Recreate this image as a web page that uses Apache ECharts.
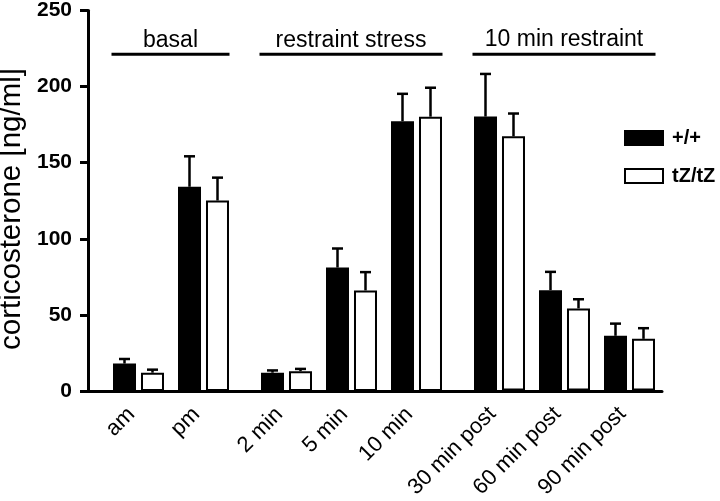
<!DOCTYPE html>
<html><head><meta charset="utf-8">
<script src="https://cdn.jsdelivr.net/npm/echarts@6/dist/echarts.min.js"></script>
<style>html,body{margin:0;padding:0;background:#fff}#c{width:720px;height:501px}</style>
</head><body><div id="c"></div>
<script>
// ---- data ----
const categories = ['am', 'pm', '2 min', '5 min', '10 min', '30 min post', '60 min post', '90 min post'];
const groupNames = ['basal', 'restraint stress', '10 min restraint'];
const groupSizes = [2, 3, 3];
const seriesNames = ['+/+', 'tZ/tZ'];
const wtMean = [18, 134, 12, 81, 177, 180, 66, 36];
const wtSem  = [3, 20, 1.5, 12.5, 18, 28, 12, 8];
const tzMean = [12, 125, 13, 66, 180, 167, 54, 34];
const tzSem  = [2, 15, 1.5, 12, 19, 15, 6, 7];
const yTicks = [0, 50, 100, 150, 200, 250];

// ---- layout ----
const FONT = 'Liberation Sans, Arial, Helvetica, sans-serif';
const TOP = 10, BOTTOM = 110, LEFT = 88, GAP = 18, BAND = 65;
const BAR_W = 23, BAR_GAP_PX = 5;
const HALF = (BAR_W + BAR_GAP_PX) / 2;
const BRACKET_Y = 221;

const grids = [];
const xAxes = [];
const yAxes = [];
const series = [];
let x = LEFT;
let start = 0;
const barGrids = [];
groupSizes.forEach((n, i) => {
  x += GAP;
  barGrids.push({ left: x, top: TOP, bottom: BOTTOM, width: BAND * n });
  x += BAND * n;
});
grids.push({ left: LEFT, top: TOP, bottom: BOTTOM, width: x - LEFT });
barGrids.forEach(g => grids.push(g));

xAxes.push({
  gridIndex: 0, type: 'value', min: 0, max: 1,
  axisLine: { show: true, onZero: false, lineStyle: { color: '#000', width: 3 } },
  axisTick: { show: false }, axisLabel: { show: false }, splitLine: { show: false }
});
yAxes.push({
  gridIndex: 0, type: 'value', min: yTicks[0], max: yTicks[yTicks.length - 1], interval: yTicks[1] - yTicks[0],
  axisLine: { show: true, lineStyle: { color: '#000', width: 3 } },
  axisTick: { show: true, length: 8, lineStyle: { color: '#000', width: 3 } },
  axisLabel: { color: '#000', fontSize: 21, fontWeight: 'bold', fontFamily: FONT, margin: 16 },
  splitLine: { show: false }
});

function errRender(off) {
  return function (params, api) {
    const c = api.value(0), m = api.value(1), s = api.value(2);
    const p0 = api.coord([c, m]);
    const p1 = api.coord([c, m + s]);
    const xx = p0[0] + off;
    return {
      type: 'group',
      children: [
        { type: 'line', shape: { x1: xx, y1: p0[1], x2: xx, y2: p1[1] }, style: { stroke: '#000', lineWidth: 2.5 } },
        { type: 'line', shape: { x1: xx - 5.5, y1: p1[1], x2: xx + 5.5, y2: p1[1] }, style: { stroke: '#000', lineWidth: 2.5 } }
      ]
    };
  };
}

groupSizes.forEach((n, i) => {
  const gi = i + 1;
  const cats = categories.slice(start, start + n);
  xAxes.push({
    gridIndex: gi, type: 'category', data: cats,
    axisLine: { show: false }, axisTick: { show: false },
    axisLabel: { interval: 0, rotate: 45, color: '#000', fontSize: 22, fontFamily: FONT, margin: 13, padding: [0, 10, 0, 0] }
  });
  yAxes.push({ gridIndex: gi, type: 'value', min: 0, max: 250, show: false });
  const wm = wtMean.slice(start, start + n), ws = wtSem.slice(start, start + n);
  const tm = tzMean.slice(start, start + n), ts = tzSem.slice(start, start + n);
  series.push({
    name: seriesNames[0], type: 'bar', xAxisIndex: gi, yAxisIndex: gi, data: wm,
    barWidth: BAR_W, barGap: (BAR_GAP_PX / BAR_W * 100).toFixed(1) + '%',
    itemStyle: { color: '#000', borderColor: '#000', borderWidth: 2 }
  });
  series.push({
    name: seriesNames[1], type: 'bar', xAxisIndex: gi, yAxisIndex: gi, data: tm,
    barWidth: BAR_W, barGap: (BAR_GAP_PX / BAR_W * 100).toFixed(1) + '%',
    itemStyle: { color: '#fff', borderColor: '#000', borderWidth: 2 }
  });
  series.push({
    name: 'err-wt-' + i, type: 'custom', xAxisIndex: gi, yAxisIndex: gi, z: 5,
    data: wm.map((v, j) => [j, v, ws[j]]), renderItem: errRender(-HALF)
  });
  series.push({
    name: 'err-tz-' + i, type: 'custom', xAxisIndex: gi, yAxisIndex: gi, z: 5,
    data: tm.map((v, j) => [j, v, ts[j]]), renderItem: errRender(HALF)
  });
  series.push({
    name: 'bracket-' + i, type: 'custom', xAxisIndex: gi, yAxisIndex: gi, z: 5,
    data: [[0, n - 1]],
    renderItem: (function (label) {
      return function (params, api) {
        const a = api.coord([api.value(0), BRACKET_Y]);
        const b = api.coord([api.value(1), BRACKET_Y]);
        const x1 = a[0] - 27, x2 = b[0] + 26;
        return {
          type: 'group',
          children: [
            { type: 'line', shape: { x1: x1, y1: a[1], x2: x2, y2: a[1] }, style: { stroke: '#000', lineWidth: 3 } },
            { type: 'text', x: (x1 + x2) / 2, y: a[1] - 14,
              style: { text: label, fill: '#000', font: '23px ' + FONT, align: 'center', verticalAlign: 'middle' } }
          ]
        };
      };
    })(groupNames[i])
  });
  start += n;
});

const chart = echarts.init(document.getElementById('c'), null, { renderer: 'canvas' });
chart.setOption({
  animation: false,
  backgroundColor: '#fff',
  grid: grids,
  xAxis: xAxes,
  yAxis: yAxes,
  legend: {
    data: seriesNames.map(n => ({ name: n, icon: 'rect' })), orient: 'vertical', left: 619, top: 123,
    itemWidth: 38, itemHeight: 14, itemGap: 18, selectedMode: false,
    textStyle: { fontSize: 20, fontWeight: 'bold', color: '#000', fontFamily: FONT, padding: [0, 0, 0, 4] }
  },
  graphic: [{
    type: 'text', x: 12, y: 209, rotation: Math.PI / 2,
    style: { text: 'corticosterone [ng/ml]', fill: '#000', font: '29.5px ' + FONT, align: 'center', verticalAlign: 'middle' }
  }],
  series: series
});
</script>
</body></html>
